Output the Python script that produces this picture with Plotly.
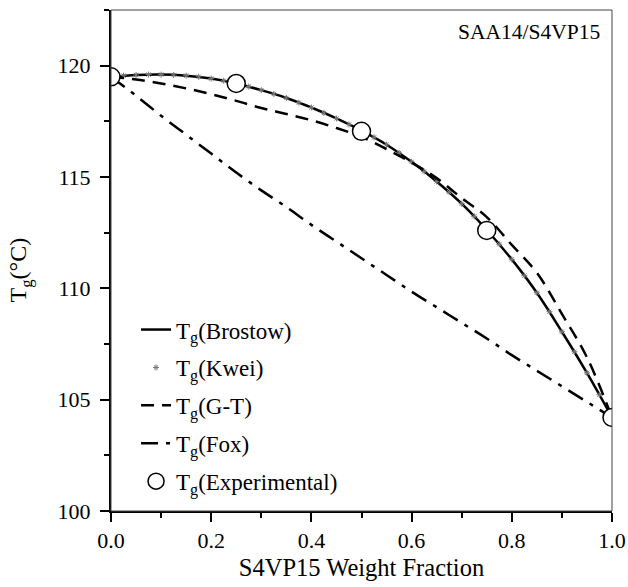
import plotly.graph_objects as go

# ---- data ----
x_fine = [0.0, 0.05, 0.1, 0.15, 0.2, 0.25, 0.3, 0.35, 0.4, 0.45, 0.5,
          0.55, 0.6, 0.65, 0.7, 0.75, 0.8, 0.85, 0.9, 0.95, 1.0]
tg_brostow = [119.5, 119.58, 119.6, 119.55, 119.42, 119.2, 118.9, 118.55, 118.12, 117.63, 117.08,
              116.45, 115.68, 114.8, 113.8, 112.62, 111.3, 109.8, 108.05, 106.2, 104.2]
tg_gt = [119.5, 119.38, 119.2, 118.98, 118.72, 118.42, 118.1, 117.83, 117.55, 117.2, 116.8,
         116.25, 115.65, 114.95, 114.05, 113.2, 111.95, 110.7, 108.85, 106.9, 104.2]
tg_fox = [119.5, 118.65, 117.75, 116.9, 116.05, 115.2, 114.4, 113.65, 112.85, 112.1, 111.35,
          110.6, 109.85, 109.15, 108.45, 107.75, 107.0, 106.3, 105.6, 104.9, 104.2]

x_kwei = [0.0, 0.025, 0.05, 0.075, 0.1, 0.125, 0.15, 0.175, 0.2, 0.225, 0.25, 0.275, 0.3, 0.325,
          0.35, 0.375, 0.4, 0.425, 0.45, 0.475, 0.5, 0.525, 0.55, 0.575, 0.6, 0.625, 0.65, 0.675,
          0.7, 0.725, 0.75, 0.775, 0.8, 0.825, 0.85, 0.875, 0.9, 0.925, 0.95, 0.975, 1.0]
tg_kwei = [119.5, 119.55, 119.58, 119.6, 119.6, 119.58, 119.55, 119.5, 119.42, 119.32, 119.2,
           119.06, 118.9, 118.73, 118.55, 118.34, 118.12, 117.88, 117.63, 117.36, 117.08,
           116.78, 116.45, 116.08, 115.68, 115.25, 114.8, 114.32, 113.8, 113.23, 112.62,
           111.98, 111.3, 110.57, 109.8, 108.95, 108.05, 107.15, 106.2, 105.22, 104.2]

x_exp = [0.0, 0.25, 0.5, 0.75, 1.0]
tg_exp = [119.5, 119.2, 117.05, 112.6, 104.2]

label_annot = "SAA14/S4VP15"
x_title = "S4VP15 Weight Fraction"
y_title = "T<sub>g</sub>(°C)"

FONT = "Liberation Serif"

fig = go.Figure()
fig.add_trace(go.Scatter(x=x_fine, y=tg_brostow, mode="lines", name="T<sub>g</sub>(Brostow)",
                         legendgroup="a",
                         line=dict(color="black", width=2.5, shape="spline")))
fig.add_trace(go.Scatter(x=x_kwei, y=tg_kwei, mode="markers", name="T<sub>g</sub>(Kwei)",
                         legendgroup="b",
                         marker=dict(symbol="asterisk-open", size=5, color="#777777",
                                     line=dict(width=1, color="#777777"))))
fig.add_trace(go.Scatter(x=x_fine, y=tg_gt, mode="lines", name="T<sub>g</sub>(G-T)",
                         legendgroup="c",
                         line=dict(color="black", width=2.5, dash="13px,8px", shape="spline")))
fig.add_trace(go.Scatter(x=x_fine, y=tg_fox, mode="lines", name="T<sub>g</sub>(Fox)",
                         legendgroup="d",
                         line=dict(color="black", width=2.5, dash="17px,8px,4px,8px", shape="spline")))
fig.add_trace(go.Scatter(x=x_exp, y=tg_exp, mode="markers", name="T<sub>g</sub>(Experimental)",
                         legendgroup="e",
                         marker=dict(symbol="circle", size=18, color="white",
                                     line=dict(width=1.5, color="black"))))

fig.add_annotation(x=0.98, y=0.985, xref="paper", yref="paper", text=label_annot,
                   showarrow=False, xanchor="right", yanchor="top",
                   font=dict(family=FONT, size=21.5, color="black"))

# y-axis title placed as rotated text to match the reference position
fig.add_annotation(x=0, y=0.48, xref="paper", yref="paper", text=y_title,
                   showarrow=False, xanchor="center", yanchor="middle", xshift=-91,
                   textangle=-90, font=dict(family=FONT, size=24, color="black"))

# thin frame on top / right
fig.add_shape(type="rect", xref="paper", yref="paper", x0=0, y0=0, x1=1, y1=1,
              line=dict(color="#444444", width=1), layer="above")

axis_common = dict(showgrid=False, zeroline=False, showline=True, linecolor="black",
                   linewidth=2, ticks="outside", ticklen=9, tickwidth=2, tickcolor="black",
                   ticklabeloverflow="allow",
                   tickfont=dict(family=FONT, size=22, color="black"))

fig.update_xaxes(range=[0, 1], tickvals=[0, 0.2, 0.4, 0.6, 0.8, 1.0],
                 ticktext=["0.0", "0.2", "0.4", "0.6", "0.8", "1.0"],
                 minor=dict(dtick=0.1, ticks="outside", ticklen=5, tickwidth=1.5, tickcolor="black", tick0=0),
                 title=dict(text=x_title, font=dict(family=FONT, size=24.5, color="black"), standoff=6),
                 **axis_common)
fig.update_yaxes(range=[100, 122.5], tickvals=[100, 105, 110, 115, 120],
                 minor=dict(dtick=2.5, ticks="outside", ticklen=5, tickwidth=1.5, tickcolor="black", tick0=100),
                 ticklabelstandoff=5,
                 **axis_common)

fig.update_layout(
    width=628, height=587,
    margin=dict(l=111, r=16, t=10, b=76, autoexpand=False),
    plot_bgcolor="white", paper_bgcolor="white",
    showlegend=True,
    legend=dict(x=0.05, y=0.405, xanchor="left", yanchor="top",
                bgcolor="rgba(0,0,0,0)", borderwidth=0,
                font=dict(family=FONT, size=23, color="black"),
                itemwidth=30, tracegroupgap=5),
)

fig.write_html("out.html", config={"displayModeBar": False},
               post_script="document.body.style.margin='0';")
